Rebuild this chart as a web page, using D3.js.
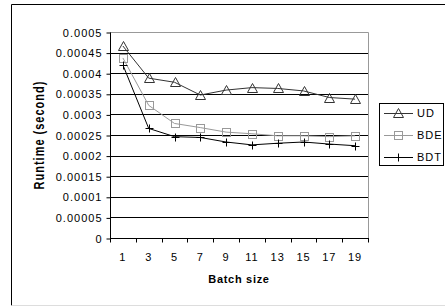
<!DOCTYPE html>
<html><head><meta charset="utf-8">
<script src="https://cdn.jsdelivr.net/npm/d3@7"></script>
<style>
html,body{margin:0;padding:0;background:#fff;}
text{font-family:"Liberation Sans",Arial,sans-serif;}
</style></head>
<body>
<svg id="c" width="445" height="307"></svg>
<script>
const categories = ["1","3","5","7","9","11","13","15","17","19"];
const ud  = [0.000466,0.000388,0.000378,0.000347,0.000359,0.000365,0.000363,0.000357,0.000341,0.000337];
const bde = [0.000437,0.000322,0.000278,0.000268,0.000257,0.000253,0.000248,0.000248,0.000246,0.000248];
const bdt = [0.000420,0.000266,0.000246,0.000244,0.000233,0.000226,0.000230,0.000233,0.000228,0.000224];
const yTicks = [0,0.00005,0.0001,0.00015,0.0002,0.00025,0.0003,0.00035,0.0004,0.00045,0.0005];
const yTickLabels = ["0","0.00005","0.0001","0.00015","0.0002","0.00025","0.0003","0.00035","0.0004","0.00045","0.0005"];
const seriesNames = ["UD","BDE","BDT"];

const svg = d3.select("#c");
const L=110,R=368,T=32,B=238;

// outer frame
svg.append("line").attr("x1",11.5).attr("x2",445).attr("y1",4.5).attr("y2",4.5).attr("stroke","#000");
svg.append("line").attr("x1",11.5).attr("x2",11.5).attr("y1",4.5).attr("y2",305.5).attr("stroke","#000");
svg.append("line").attr("x1",11.5).attr("x2",445).attr("y1",305.5).attr("y2",305.5).attr("stroke","#ddd");

const x = d3.scaleBand().domain(categories).range([L,R]);
const y = d3.scaleLinear().domain([0,0.0005]).range([B,T]);

// gridlines
svg.append("g").selectAll("line").data(yTicks.filter(v=>v>0&&v<0.0005)).join("line")
  .attr("x1",L).attr("x2",R).attr("y1",d=>Math.round(y(d))+0.5).attr("y2",d=>Math.round(y(d))+0.5)
  .attr("stroke","#000");
// plot border top/right gray
svg.append("line").attr("x1",L).attr("x2",R+0.5).attr("y1",T+0.5).attr("y2",T+0.5).attr("stroke","#999");
svg.append("line").attr("x1",R+0.5).attr("x2",R+0.5).attr("y1",T+0.5).attr("y2",B).attr("stroke","#999");

// y axis
const yAxis = d3.axisLeft(y).tickValues(yTicks).tickFormat((d,i)=>yTickLabels[i]).tickSize(4).tickPadding(4);
const gy = svg.append("g").attr("transform",`translate(${L+0.5},0.5)`).call(yAxis);
gy.select(".domain").attr("stroke","#000").attr("d",`M0,${T}V${B}`);
gy.selectAll(".tick line").attr("stroke","#000");
gy.selectAll("text").attr("font-size",11).attr("letter-spacing",1).attr("fill","#000")
  .attr("font-family","'Liberation Sans',Arial,sans-serif");

// x axis with ticks at boundaries
const gx = svg.append("g").attr("transform",`translate(0,${B+0.5})`);
gx.append("line").attr("x1",L).attr("x2",R+1).attr("y1",0).attr("y2",0).attr("stroke","#000");
const bounds = categories.map(c=>x(c)).concat([R]);
gx.selectAll("line.t").data(bounds).join("line").attr("class","t")
  .attr("x1",d=>Math.round(d)+0.5).attr("x2",d=>Math.round(d)+0.5).attr("y1",0).attr("y2",4).attr("stroke","#000");
gx.selectAll("text").data(categories).join("text")
  .attr("x",d=>x(d)+x.bandwidth()/2).attr("y",22).attr("text-anchor","middle")
  .attr("font-size",11).attr("letter-spacing",1).text(d=>d);

// axis titles
svg.append("text").attr("x",L+(R-L)/2).attr("y",283).attr("text-anchor","middle")
  .attr("font-size",11).attr("font-weight","bold").attr("letter-spacing",0.7).text("Batch size");
svg.append("text").attr("transform",`translate(44,${(T+B)/2}) rotate(-90) scale(1,1.25)`).attr("text-anchor","middle")
  .attr("font-size",11).attr("font-weight","bold").attr("letter-spacing",1).text("Runtime (second)");

const cx = d=>x(d)+x.bandwidth()/2;
const styles = [
  {data:ud,color:"#333",marker:"tri"},
  {data:bde,color:"#999",marker:"sq"},
  {data:bdt,color:"#000",marker:"plus"}
];
function drawMarker(g,type,color,px,py){
  if(type==="tri"){
    g.append("path").attr("d",`M${px},${py-5}L${px+5},${py+4}L${px-5},${py+4}Z`)
      .attr("fill","none").attr("stroke",color);
  } else if(type==="sq"){
    g.append("rect").attr("x",px-4).attr("y",py-4).attr("width",8).attr("height",8)
      .attr("fill","none").attr("stroke",color);
  } else {
    g.append("path").attr("d",`M${px-4},${py}H${px+4}M${px},${py-4}V${py+4}`)
      .attr("fill","none").attr("stroke",color);
  }
}
const line = d3.line().x((d,i)=>cx(categories[i])).y(d=>y(d));
styles.forEach(s=>{
  svg.append("path").datum(s.data).attr("d",line).attr("fill","none").attr("stroke",s.color).attr("stroke-width",1);
  const g = svg.append("g");
  s.data.forEach((v,i)=>drawMarker(g,s.marker,s.color,Math.round(cx(categories[i]))+0.5,Math.round(y(v))+0.5));
});

// legend
const lg = svg.append("g");
lg.append("rect").attr("x",379.5).attr("y",103.5).attr("width",64).attr("height",62).attr("fill","#fff").attr("stroke","#000");
const rowsY=[113,135,157];
styles.forEach((s,i)=>{
  const yy=rowsY[i]+0.5;
  lg.append("line").attr("x1",384).attr("x2",413).attr("y1",yy).attr("y2",yy).attr("stroke",s.color);
  drawMarker(lg,s.marker,s.color,398.5,yy);
  lg.append("text").attr("x",417).attr("y",rowsY[i]+4).attr("font-size",11).attr("letter-spacing",1).text(seriesNames[i]);
});
</script>
</body></html>
